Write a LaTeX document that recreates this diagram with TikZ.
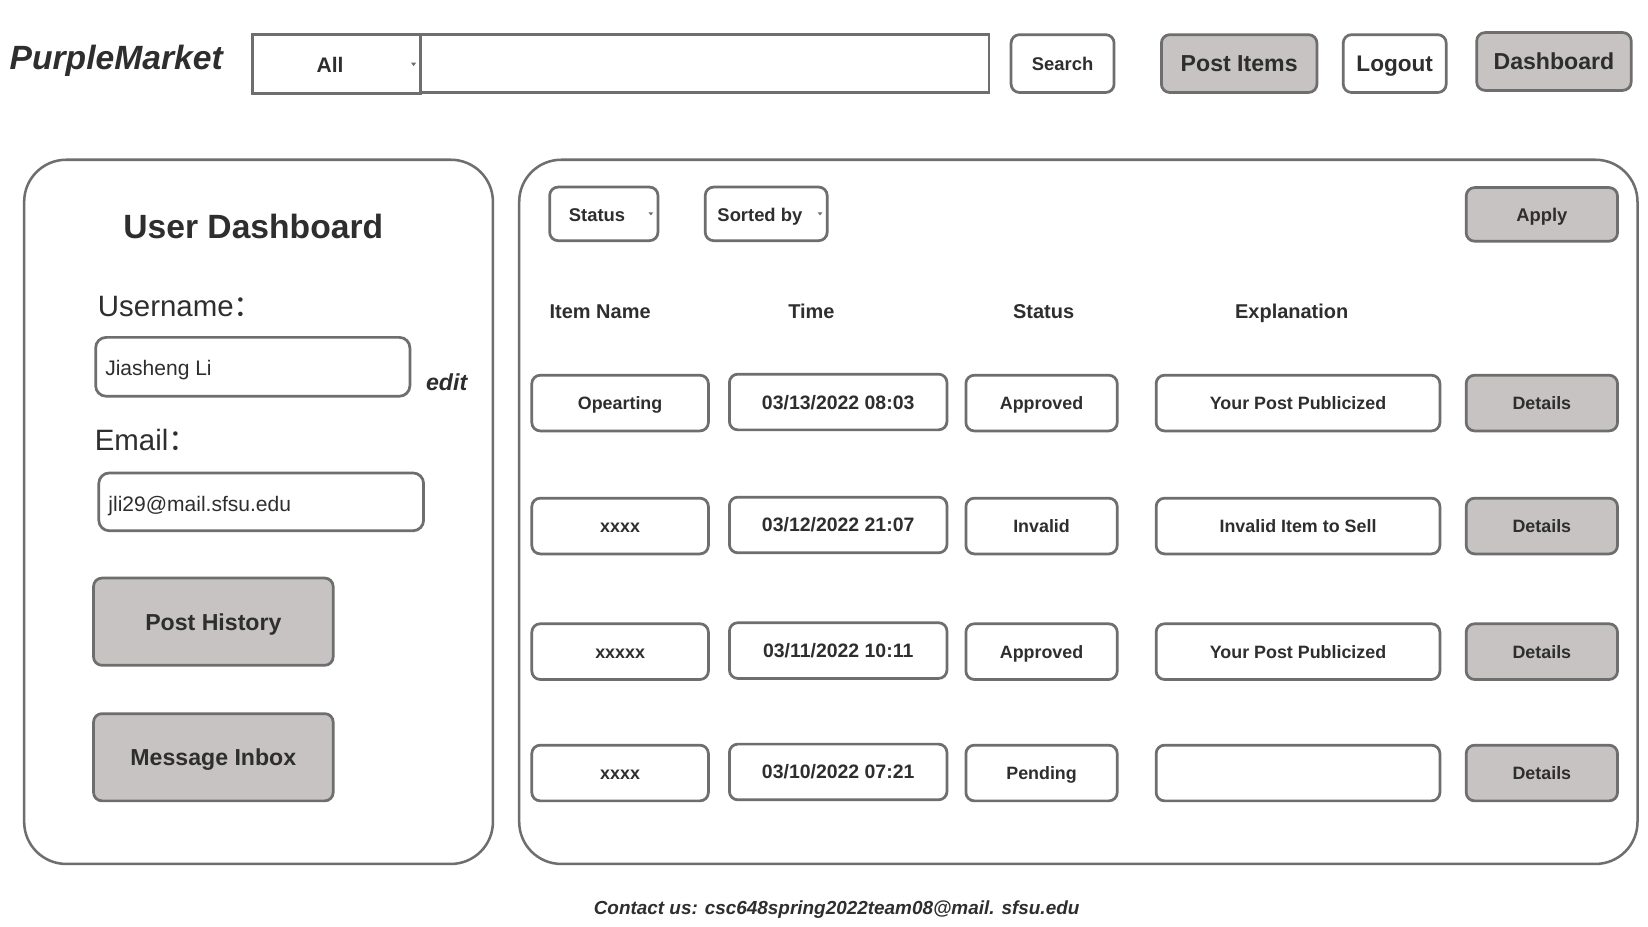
\documentclass[tikz,border=0pt]{standalone}
\usepackage{fontspec}
\setmainfont{Liberation Sans}
\newfontfamily\cjk{Noto Sans CJK SC}
\definecolor{bord}{HTML}{6E6E6E}
\definecolor{txt}{HTML}{2E2E2E}
\definecolor{btnfill}{HTML}{C6C3C2}
\newcommand{\fs}[1]{\fontsize{#1}{#1}\selectfont}
\tikzset{
  x=1pt, y=-1pt,
  box/.style={draw=bord, line width=2.6pt, rounded corners=8pt, fill=white, inner sep=0pt, text=txt},
  sqbox/.style={draw=bord, line width=2.8pt, fill=white, inner sep=0pt, text=txt},
  graybox/.style={box, fill=btnfill},
  panel/.style={draw=bord, line width=2.4pt, rounded corners=40pt},
  lbl/.style={inner sep=0pt, text=txt},
  arrowtri/.style={fill=bord, draw=none},
  bf/.style={font=\fs{#1}\bfseries, text height={0.72*#1pt}, text depth=0pt},
  rg/.style={font=\fs{#1}, text height={0.72*#1pt}, text depth=0pt},
  bfi/.style={font=\fs{#1}\bfseries\itshape, text height={0.72*#1pt}, text depth=0pt},
  rowtxt/.style={bf=17},
  hdr/.style={lbl, bf=19},
}
\begin{document}
\begin{tikzpicture}
\fill[white] (0,0) rectangle (1568,882);
\useasboundingbox (0,0) rectangle (1568,882);

% header
\node[lbl, anchor=west, bfi=32] (logo) at (9,55) {PurpleMarket};
\node[sqbox, minimum width=160, minimum height=56] (allbox) at (320,61) {};
\node[lbl, bf=20] (alltxt) at (314,62) {All};
\fill[arrowtri] (391,59.5) -- (396,59.5) -- (393.5,63) -- cycle;
\node[sqbox, minimum width=541, minimum height=55] (searchin) at (670.5,60.5) {};
\node[box, minimum width=98, minimum height=55, bf=17.5] (searchbtn) at (1011,60.5) {Search};
\node[graybox, minimum width=148, minimum height=55, bf=22] (postitems) at (1179,60.5) {Post Items};
\node[box, minimum width=98, minimum height=55, bf=21.5] (logout) at (1327,60.5) {Logout};
\node[graybox, minimum width=147, minimum height=55, bf=22] (dash) at (1478.5,58.5) {Dashboard};

% left panel
\draw[panel] (23,152) rectangle (469,822);
\node[lbl, bf=32] (udtitle) at (241,215) {User Dashboard};
\node[lbl, anchor=west, rg=28] (unlbl) at (93,291) {Username\cjk{：}};
\node[box, minimum width=299, minimum height=56, rounded corners=10pt] (unbox) at (240.5,349) {};
\node[lbl, anchor=west, rg=20] (untxt) at (100,350) {Jiasheng Li};
\node[lbl, bfi=22] (edit) at (425,364) {edit};
\node[lbl, anchor=west, rg=28] (emlbl) at (90,419) {Email\cjk{：}};
\node[box, minimum width=309, minimum height=55, rounded corners=10pt] (embox) at (248.5,477.5) {};
\node[lbl, anchor=west, rg=20] (emtxt) at (103,479) {jli29@mail.sfsu.edu};
\node[graybox, minimum width=228, minimum height=83, bf=22] (posthist) at (203,591.5) {Post History};
\node[graybox, minimum width=228, minimum height=83, bf=22] (inbox) at (203,720.5) {Message Inbox};

% right panel
\draw[panel] (494,152) rectangle (1558,822);
\node[box, minimum width=103, minimum height=51] (statusdd) at (574.5,203.5) {};
\node[lbl, bf=17.5] (statustxt) at (568,204) {Status};
\fill[arrowtri] (617,202) -- (621.5,202) -- (619.25,205) -- cycle;
\node[box, minimum width=116, minimum height=51] (sortdd) at (729,203.5) {};
\node[lbl, bf=17.5] (sorttxt) at (723,204) {Sorted by};
\fill[arrowtri] (778,202) -- (782.5,202) -- (780.25,205) -- cycle;
\node[graybox, minimum width=144, minimum height=51, bf=17.5] (apply) at (1467,204) {Apply};

\node[hdr] (h1) at (571,296) {Item Name};
\node[hdr] (h2) at (772,296) {Time};
\node[hdr] (h3) at (993,296) {Status};
\node[hdr] (h4) at (1229,296) {Explanation};

\foreach \i/\yy/\nm/\tm/\st/\ex in {
  1/383.5/Opearting/03\slash 13\slash 2022 08:03/Approved/Your Post Publicized,
  2/500.5/xxxx/03\slash 12\slash 2022 21:07/Invalid/Invalid Item to Sell,
  3/620/xxxxx/03\slash 11\slash 2022 10:11/Approved/Your Post Publicized,
  4/735.5/xxxx/03\slash 10\slash 2022 07:21/Pending/{}}{
  \node[box, rowtxt, minimum width=168, minimum height=53] (name\i) at (590,\yy) {\nm};
  \node[box, bf=18.5, minimum width=207, minimum height=53] (time\i) at (797.5,\yy-1) {\tm};
  \node[box, rowtxt, minimum width=144, minimum height=53] (stat\i) at (991,\yy) {\st};
  \node[box, rowtxt, minimum width=270, minimum height=53] (expl\i) at (1235,\yy) {\ex};
  \node[graybox, rowtxt, minimum width=144, minimum height=53] (det\i) at (1467,\yy) {Details};
}

\node[lbl, bfi=18] (contact) at (796,864) {Contact us: csc648spring2022team08@mail. sfsu.edu};
\end{tikzpicture}
\end{document}
